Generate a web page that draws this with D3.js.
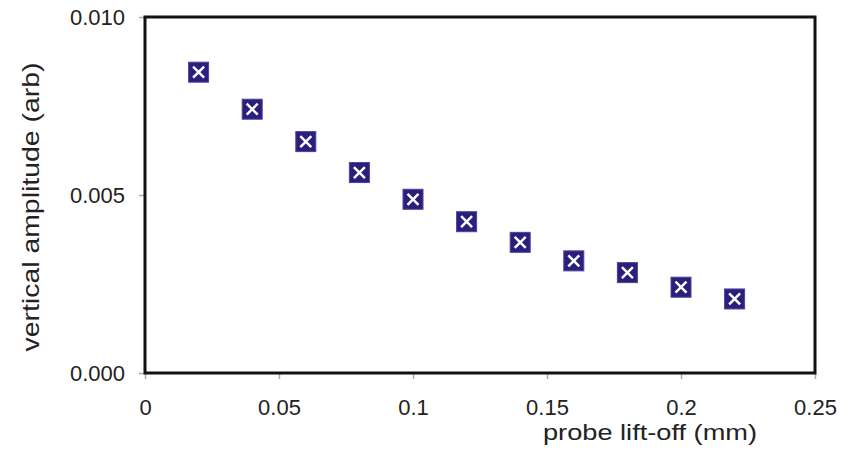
<!DOCTYPE html>
<html>
<head>
<meta charset="utf-8">
<script src="https://cdn.jsdelivr.net/npm/d3@7"></script>
<style>
  body { margin: 0; background: #fff; }
  svg text { font-family: "Liberation Sans", Arial, sans-serif; fill: #222; }
</style>
</head>
<body>
<svg id="chart"></svg>
<script>
(() => {

  // data
  const liftOff = [0.02, 0.04, 0.06, 0.08, 0.10, 0.12, 0.14, 0.16, 0.18, 0.20, 0.22];
  const amplitude = [0.00845, 0.00741, 0.0065, 0.00563, 0.00488, 0.00425, 0.00367, 0.00315, 0.00282, 0.00241, 0.00208];
  const xTicks = [0, 0.05, 0.1, 0.15, 0.2, 0.25];
  const xTickLabels = ['0', '0.05', '0.1', '0.15', '0.2', '0.25'];
  const yTicks = [0, 0.005, 0.01];
  const yTickLabels = ['0.000', '0.005', '0.010'];

  document.addEventListener("DOMContentLoaded", () => {
    drawChart();
  });

  function drawChart() {
    const svgWidth = 862;
    const svgHeight = 459;
    const left = 145, right = 815, top = 17, bottom = 373;

    const svg = d3.select('#chart')
      .attr('width', svgWidth)
      .attr('height', svgHeight);

    const xScale = d3.scaleLinear().domain([0, 0.25]).range([left, right]);
    const yScale = d3.scaleLinear().domain([0, 0.01]).range([bottom, top]);

    // x axis ticks + labels
    const xAxis = d3.axisBottom(xScale)
      .tickValues(xTicks)
      .tickFormat((d, i) => xTickLabels[i])
      .tickSize(6)
      .tickPadding(20);
    const gx = svg.append('g')
      .attr('transform', `translate(0,${bottom})`)
      .call(xAxis);
    gx.select('.domain').remove();
    gx.selectAll('line').attr('stroke', '#aaa').attr('stroke-width', 1.5);
    gx.selectAll('text').attr('font-size', 22).attr('fill', '#222');

    const yAxis = d3.axisLeft(yScale)
      .tickValues(yTicks)
      .tickFormat((d, i) => yTickLabels[i])
      .tickSize(6)
      .tickPadding(14);
    const gy = svg.append('g')
      .attr('transform', `translate(${left},0)`)
      .call(yAxis);
    gy.select('.domain').remove();
    gy.selectAll('line').attr('stroke', '#aaa').attr('stroke-width', 1.5);
    gy.selectAll('text').attr('font-size', 22).attr('fill', '#222');

    // frame
    svg.append('rect')
      .attr('x', left)
      .attr('y', top)
      .attr('width', right - left)
      .attr('height', bottom - top)
      .attr('fill', 'none')
      .attr('stroke', '#111')
      .attr('stroke-width', 3);

    // markers
    const dataset = liftOff.map((x, i) => ({ x, y: amplitude[i] }));
    const size = 20;
    const arm = 5.5;
    const markers = svg.selectAll('g.marker')
      .data(dataset)
      .enter()
      .append('g')
      .attr('class', 'marker')
      .attr('transform', d => `translate(${xScale(d.x)},${yScale(d.y)})`);

    markers.append('rect')
      .attr('x', -size / 2)
      .attr('y', -size / 2)
      .attr('width', size)
      .attr('height', size)
      .attr('fill', '#2a1f7c')
      .attr('stroke', '#4a42a0')
      .attr('stroke-width', 1);

    markers.append('path')
      .attr('d', `M${-arm},${-arm}L${arm},${arm}M${-arm},${arm}L${arm},${-arm}`)
      .attr('stroke', '#fff')
      .attr('stroke-width', 2.5);

    // axis titles
    svg.append('text')
      .attr('x', 650)
      .attr('y', 440)
      .attr('text-anchor', 'middle')
      .attr('font-size', 22)
      .attr('textLength', 214)
      .attr('lengthAdjust', 'spacingAndGlyphs')
      .text('probe lift-off (mm)');

    svg.append('text')
      .attr('transform', 'translate(39,207) rotate(-90)')
      .attr('text-anchor', 'middle')
      .attr('font-size', 24)
      .attr('textLength', 289)
      .attr('lengthAdjust', 'spacingAndGlyphs')
      .text('vertical amplitude (arb)');
  }

})();
</script>
</body>
</html>
